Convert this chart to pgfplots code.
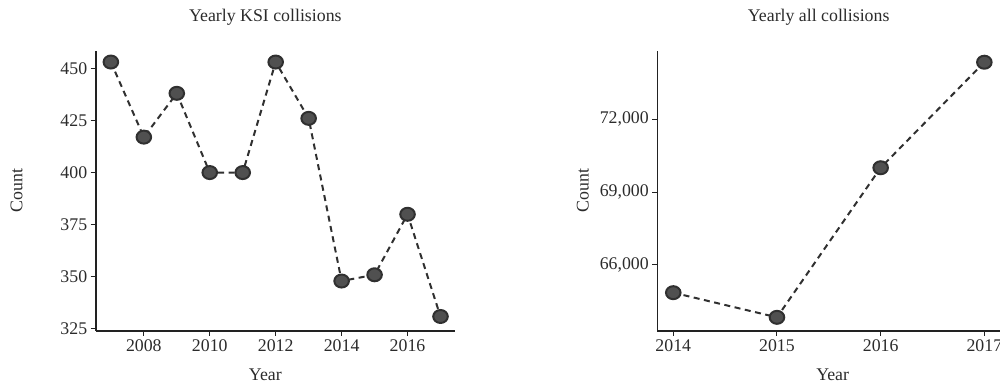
\documentclass[border=0pt]{standalone}
\usepackage{fontspec}
\setmainfont{Liberation Serif}
\usepackage{pgfplots}
\pgfplotsset{compat=1.18}
\definecolor{txt}{HTML}{2B2B2B}
\definecolor{axisc}{HTML}{222222}
\definecolor{dotc}{HTML}{505050}
\definecolor{linec}{HTML}{303030}

\pgfplotsset{
  panel/.style={
    scale only axis,
    height=280pt,
    axis lines=left,
    axis line style={axisc, line width=1.6pt, -},
    tick style={axisc, line width=1pt},
    tick align=outside,
    major tick length=5pt,
    font=\fontsize{17.8}{21}\selectfont,
    every tick label/.append style={text=txt},
    /pgf/number format/assume math mode=true,
    clip=false,
    title style={at={(0.5,1)}, anchor=base, yshift=23.5pt, xshift=-10pt, text=txt},
    xlabel style={at={(axis description cs:0.5,0)}, anchor=base, yshift=-50pt, text=txt},
    ylabel style={text=txt},
    xticklabel style={/pgf/number format/1000 sep={}},
  },
  series/.style={
    color=linec, line width=2pt, dash pattern=on 6pt off 4.5pt,
    mark=*, mark size=6.5pt,
    mark options={solid, xscale=1.12, fill=dotc, draw=none},
  },
}

\begin{document}
\begin{tikzpicture}
\useasboundingbox (0,0) rectangle (1000pt,383pt);

% Killed or seriously injured, 2007--2017
\begin{axis}[panel,
  at={(95.7pt,52.3pt)}, anchor=south west,
  width=359.3pt,
  xmin=2006.54, xmax=2017.44,
  ymin=324.18, ymax=458.44,
  xtick={2008,2010,2012,2014,2016},
  ytick={325,350,375,400,425,450},
  title={Yearly KSI collisions},
  xlabel={Year},
  xlabel style={xshift=-10pt},
  ylabel={Count},
  ylabel style={at={(axis description cs:-0.22,0.5)}, anchor=center},
]
\addplot[series] coordinates {
  (2007,453) (2008,417) (2009,438) (2010,400) (2011,400) (2012,453)
  (2013,426) (2014,348) (2015,351) (2016,380) (2017,331)
};
\end{axis}

% All collisions, 2014--2017
\begin{axis}[panel,
  at={(657.3pt,52.3pt)}, anchor=south west,
  width=342.7pt,
  xmin=2013.846, xmax=2017.151,
  ymin=63294, ymax=74825,
  xtick={2014,2015,2016,2017},
  ytick={66000,69000,72000},
  yticklabel style={/pgf/number format/.cd, fixed, 1000 sep={,}},
  scaled y ticks=false,
  title={Yearly all collisions},
  xlabel={Year},
  xlabel style={xshift=4pt},
  ylabel={Count},
  ylabel style={at={(axis description cs:-0.217,0.5)}, anchor=center},
]
\addplot[series] coordinates {
  (2014,64860) (2015,63845) (2016,70005) (2017,74350)
};
\end{axis}
\end{tikzpicture}
\end{document}
